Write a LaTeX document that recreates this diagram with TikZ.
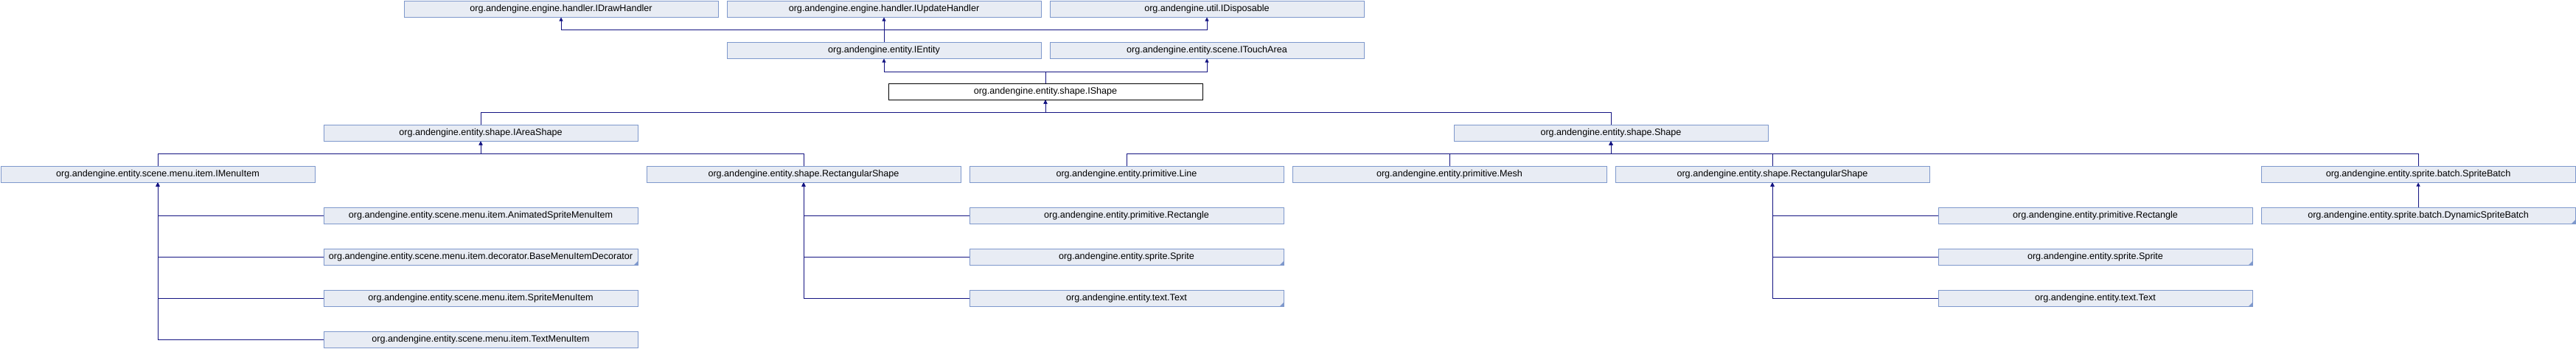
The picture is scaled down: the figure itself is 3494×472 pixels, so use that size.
\documentclass[tikz,border=0pt]{standalone}
\usepackage{fontspec}
\setmainfont{Liberation Sans}
\usetikzlibrary{arrows.meta}
\definecolor{boxfill}{RGB}{232,236,244}
\definecolor{boxline}{RGB}{126,152,204}
\definecolor{edgecol}{RGB}{20,20,130}
\tikzset{
  cls/.style={draw=boxline, fill=boxfill, line width=1pt, minimum width=426pt, minimum height=22pt, inner sep=0pt, font=\fontsize{12.6}{14}\selectfont},
  clsmain/.style={cls, draw=black, fill=white},
  edge/.style={draw=edgecol, line width=0.9pt},
  inh/.style={edge, -{Triangle[width=5pt,length=5pt]}},
}
\newcommand{\trunc}[1]{\fill[boxline] (#1.south east) -- ++(-6pt,0) -- ++(6pt,6pt) -- cycle;}
\begin{document}
\begin{tikzpicture}[x=1pt,y=-1pt]
\useasboundingbox (0,0) rectangle (3494,472);
% row 0
\node[cls] (draw) at (761,12) {org.andengine.engine.handler.IDrawHandler};
\node[cls] (upd) at (1199,12) {org.andengine.engine.handler.IUpdateHandler};
\node[cls] (disp) at (1637,12) {org.andengine.util.IDisposable};
% row 1
\node[cls] (ent) at (1199,68) {org.andengine.entity.IEntity};
\node[cls] (touch) at (1637,68) {org.andengine.entity.scene.ITouchArea};
% row 2
\node[clsmain] (ishape) at (1418,124) {org.andengine.entity.shape.IShape};
% row 3
\node[cls] (iarea) at (652,180) {org.andengine.entity.shape.IAreaShape};
\node[cls] (shape) at (2185,180) {org.andengine.entity.shape.Shape};
% row 4
\node[cls] (imenu) at (214,236) {org.andengine.entity.scene.menu.item.IMenuItem};
\node[cls] (rsa) at (1090,236) {org.andengine.entity.shape.RectangularShape};
\node[cls] (line) at (1528,236) {org.andengine.entity.primitive.Line};
\node[cls] (mesh) at (1966,236) {org.andengine.entity.primitive.Mesh};
\node[cls] (rsb) at (2404,236) {org.andengine.entity.shape.RectangularShape};
\node[cls] (sb) at (3280,236) {org.andengine.entity.sprite.batch.SpriteBatch};
% row 5
\node[cls] (anim) at (652,292) {org.andengine.entity.scene.menu.item.AnimatedSpriteMenuItem};
\node[cls] (recta) at (1528,292) {org.andengine.entity.primitive.Rectangle};
\node[cls] (rectb) at (2842,292) {org.andengine.entity.primitive.Rectangle};
\node[cls] (dsb) at (3280,292) {org.andengine.entity.sprite.batch.DynamicSpriteBatch};
% row 6
\node[cls] (deco) at (652,348) {org.andengine.entity.scene.menu.item.decorator.BaseMenuItemDecorator};
\node[cls] (spra) at (1528,348) {org.andengine.entity.sprite.Sprite};
\node[cls] (sprb) at (2842,348) {org.andengine.entity.sprite.Sprite};
% row 7
\node[cls] (smi) at (652,404) {org.andengine.entity.scene.menu.item.SpriteMenuItem};
\node[cls] (texta) at (1528,404) {org.andengine.entity.text.Text};
\node[cls] (textb) at (2842,404) {org.andengine.entity.text.Text};
% row 8
\node[cls] (tmi) at (652,460) {org.andengine.entity.scene.menu.item.TextMenuItem};
% truncation markers
\trunc{deco}\trunc{spra}\trunc{texta}\trunc{sprb}\trunc{textb}\trunc{dsb}
% edges: IEntity
\draw[inh] (ent.north) -- (upd.south);
\draw[inh] (ent.north) -- ++(0,-16.5) -| (draw.south);
\draw[inh] (ent.north) -- ++(0,-16.5) -| (disp.south);
% IShape
\draw[inh] (ishape.north) -- ++(0,-15.5) -| (ent.south);
\draw[inh] (ishape.north) -- ++(0,-15.5) -| (touch.south);
% IAreaShape, Shape
\draw[inh] (iarea.north) -- ++(0,-16) -| (ishape.south);
\draw[inh] (shape.north) -- ++(0,-16) -| (ishape.south);
% IMenuItem, RectangularShape -> IAreaShape
\draw[inh] (imenu.north) -- ++(0,-16) -| (iarea.south);
\draw[inh] (rsa.north) -- ++(0,-16) -| (iarea.south);
% children of Shape
\draw[inh] (line.north) -- ++(0,-16) -| (shape.south);
\draw[inh] (mesh.north) -- ++(0,-16) -| (shape.south);
\draw[inh] (rsb.north) -- ++(0,-16) -| (shape.south);
\draw[inh] (sb.north) -- ++(0,-16) -| (shape.south);
% IMenuItem children
\draw[inh] (anim.west) -| (imenu.south);
\draw[inh] (deco.west) -| (imenu.south);
\draw[inh] (smi.west) -| (imenu.south);
\draw[inh] (tmi.west) -| (imenu.south);
% RectangularShape (left) children
\draw[inh] (recta.west) -| (rsa.south);
\draw[inh] (spra.west) -| (rsa.south);
\draw[inh] (texta.west) -| (rsa.south);
% RectangularShape (right) children
\draw[inh] (rectb.west) -| (rsb.south);
\draw[inh] (sprb.west) -| (rsb.south);
\draw[inh] (textb.west) -| (rsb.south);
% DynamicSpriteBatch
\draw[inh] (dsb.north) -- (sb.south);
\end{tikzpicture}
\end{document}
